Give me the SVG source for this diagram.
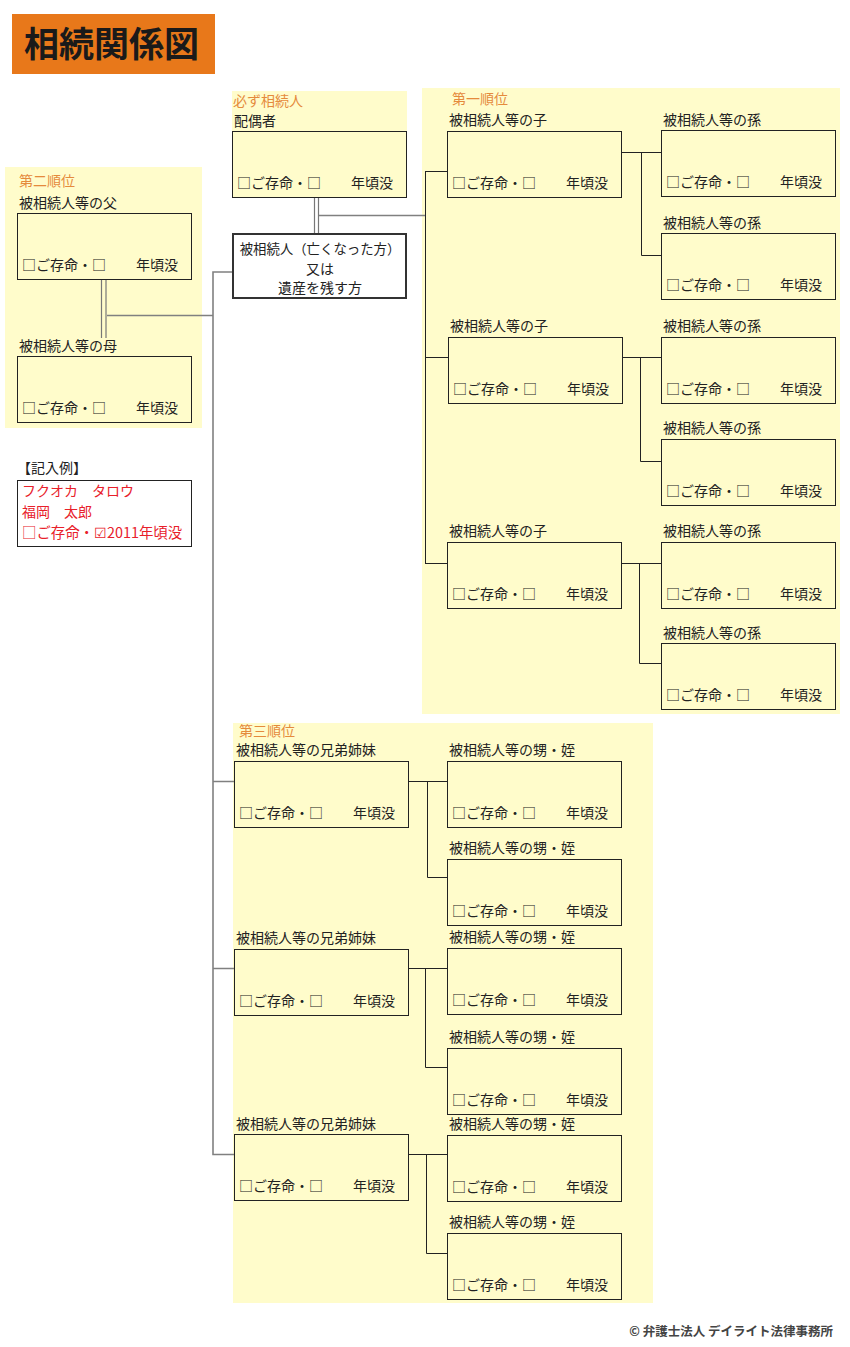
<svg xmlns="http://www.w3.org/2000/svg" width="850" height="1347" viewBox="0 0 850 1347">
<style>
text{font-family:"Noto Sans CJK JP","Noto Sans",sans-serif;font-size:14px;fill:#222}
.panel{fill:#FFFCCB}
.box{fill:#FFFCCB;stroke:#222;stroke-width:1}
.ord{fill:#E58A3C}
.red{fill:#E8202A}
.c{fill:none;stroke:#222;stroke-width:1}
.g{fill:none;stroke:#808080;stroke-width:1.6}
.d{fill:none;stroke:#777;stroke-width:1.2}
</style>
<defs>
<g id="p">
<rect class="box" x="0.5" y="0.5" width="174" height="66"/>
<text x="5" y="57">□ご存命・□</text>
<text x="119" y="57">年頃没</text>
</g>
</defs>
<rect width="850" height="1347" fill="#fff"/>
<g id="title">
<rect x="12" y="14" width="203" height="60" fill="#E8781A"/>
<text x="24" y="57" style="font-size:35px;font-weight:bold;fill:#1a1a1a">相続関係図</text>
</g>
<g id="panels">
<rect class="panel" x="232" y="91" width="175" height="106"/>
<rect class="panel" x="5" y="167" width="197" height="261"/>
<rect class="panel" x="422" y="88" width="418" height="626"/>
<rect class="panel" x="233" y="723" width="420" height="580"/>
<text class="ord" x="233" y="106">必ず相続人</text>
<text class="ord" x="19" y="186">第二順位</text>
<text class="ord" x="452" y="104">第一順位</text>
<text class="ord" x="239" y="736">第三順位</text>
</g>
<g id="connectors">
<path class="d" d="M314.5 197V233M318.5 197V233"/>
<path class="g" d="M319 215.5H425"/>
<path class="c" d="M425.5 171V563M425 171.5H447M425 357.5H448M425 563.5H447"/>
<path class="c" d="M622 152.5H661M641.5 152V255.5H661"/>
<path class="c" d="M622 357.5H661M640.5 357V461.5H661"/>
<path class="c" d="M622 563.5H661M639.5 563V663.5H661"/>
<path class="g" d="M232 272H213V1154.5H234M213 315.5H107M213 781.5H234M213 968.5H234"/>
<path class="d" d="M101.5 279V338M106 279V338"/>
<path class="c" d="M408 781.5H447M427.5 781V877.5H447"/>
<path class="c" d="M408 968.5H447M425.5 968V1067.5H447"/>
<path class="c" d="M408 1154.5H447M426.5 1154V1253.5H447"/>
</g>
<g id="spouse">
<text x="234" y="126">配偶者</text>
<use href="#p" x="232" y="131"/>
</g>
<g id="deceased">
<rect x="233" y="234" width="173" height="64" fill="#fff" stroke="#333" stroke-width="2"/>
<text x="320" y="254" text-anchor="middle" style="font-size:13.4px">被相続人（亡くなった方）</text>
<text x="320" y="274" text-anchor="middle">又は</text>
<text x="320" y="293" text-anchor="middle">遺産を残す方</text>
</g>
<g id="father">
<text x="19" y="208">被相続人等の父</text>
<use href="#p" x="17" y="213"/>
</g>
<g id="mother">
<text x="19" y="351">被相続人等の母</text>
<use href="#p" x="17" y="356"/>
</g>
<g id="example">
<text x="17" y="473">【記入例】</text>
<rect x="17.5" y="480.5" width="174" height="66" fill="#fff" stroke="#222"/>
<text class="red" x="22" y="496">フクオカ　タロウ</text>
<text class="red" x="22" y="517">福岡　太郎</text>
<text class="red" x="22" y="538" style="font-size:14.4px">□ご存命・☑2011年頃没</text>
</g>
<g id="child1"><text x="449" y="125">被相続人等の子</text><use href="#p" x="447" y="131"/></g>
<g id="child2"><text x="450" y="331">被相続人等の子</text><use href="#p" x="448" y="337"/></g>
<g id="child3"><text x="449" y="536">被相続人等の子</text><use href="#p" x="447" y="542"/></g>
<g id="grandchild1"><text x="663" y="125">被相続人等の孫</text><use href="#p" x="661" y="130"/></g>
<g id="grandchild2"><text x="663" y="228">被相続人等の孫</text><use href="#p" x="661" y="233"/></g>
<g id="grandchild3"><text x="663" y="331">被相続人等の孫</text><use href="#p" x="661" y="337"/></g>
<g id="grandchild4"><text x="663" y="433">被相続人等の孫</text><use href="#p" x="661" y="439"/></g>
<g id="grandchild5"><text x="663" y="536">被相続人等の孫</text><use href="#p" x="661" y="542"/></g>
<g id="grandchild6"><text x="663" y="638">被相続人等の孫</text><use href="#p" x="661" y="643"/></g>
<g id="sibling1"><text x="236" y="755">被相続人等の兄弟姉妹</text><use href="#p" x="234" y="761"/></g>
<g id="sibling2"><text x="236" y="943">被相続人等の兄弟姉妹</text><use href="#p" x="234" y="949"/></g>
<g id="sibling3"><text x="236" y="1129">被相続人等の兄弟姉妹</text><use href="#p" x="234" y="1134"/></g>
<g id="nephew1"><text x="449" y="755">被相続人等の甥・姪</text><use href="#p" x="447" y="761"/></g>
<g id="nephew2"><text x="449" y="853">被相続人等の甥・姪</text><use href="#p" x="447" y="859"/></g>
<g id="nephew3"><text x="449" y="942">被相続人等の甥・姪</text><use href="#p" x="447" y="948"/></g>
<g id="nephew4"><text x="449" y="1042">被相続人等の甥・姪</text><use href="#p" x="447" y="1048"/></g>
<g id="nephew5"><text x="449" y="1129">被相続人等の甥・姪</text><use href="#p" x="447" y="1135"/></g>
<g id="nephew6"><text x="449" y="1227">被相続人等の甥・姪</text><use href="#p" x="447" y="1233"/></g>
<text x="833" y="1336" text-anchor="end" style="font-size:12.5px;font-weight:bold;fill:#444">© 弁護士法人 デイライト法律事務所</text>
</svg>
